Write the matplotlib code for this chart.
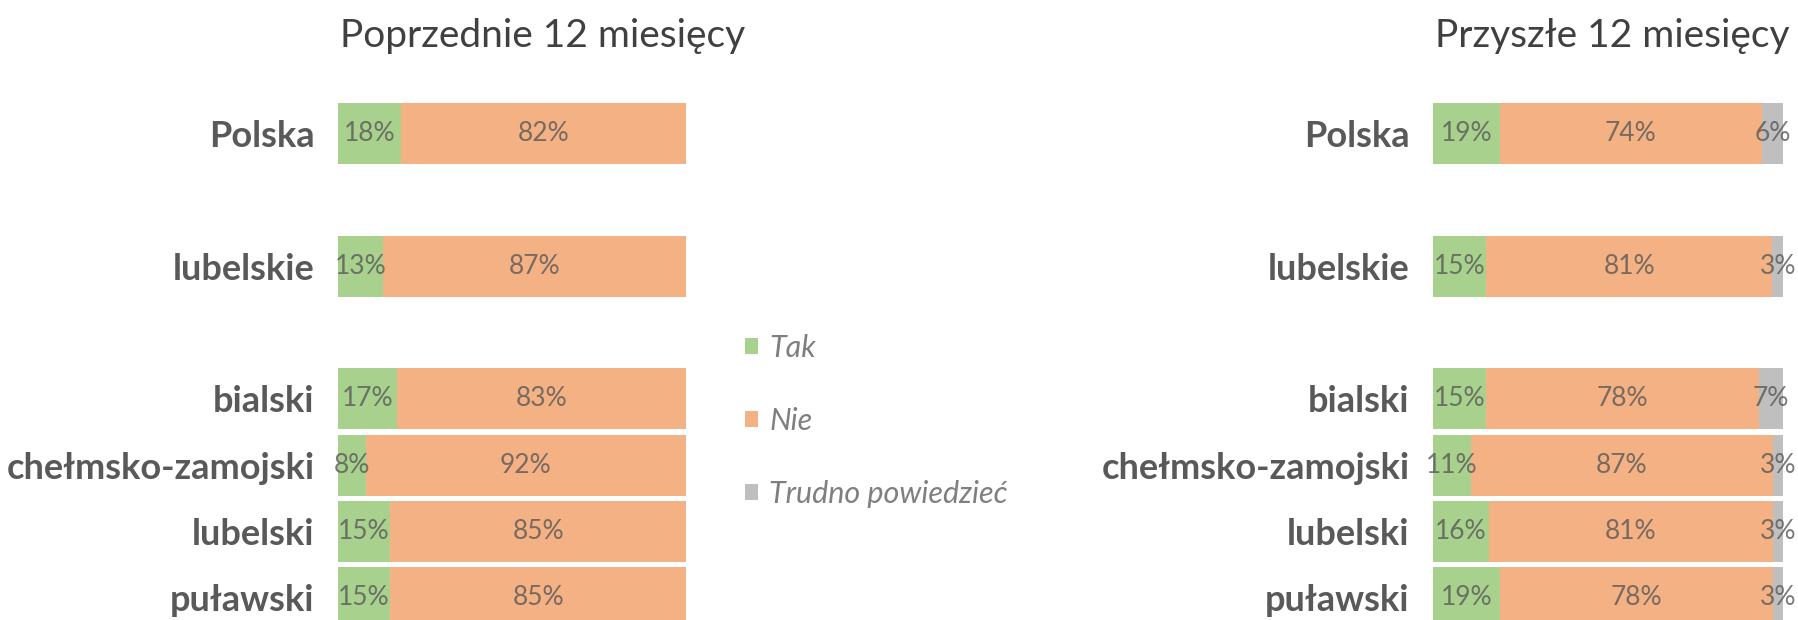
import numpy as np
import matplotlib
matplotlib.use("Agg")
import matplotlib.pyplot as plt

# data
regions = ["Polska", "lubelskie", "bialski", "chełmsko-zamojski", "lubelski", "puławski"]
row_pos = [0, 2, 4, 5, 6, 7]

prev_tak = [18, 13, 17, 8, 15, 15]
prev_nie = [82, 87, 83, 92, 85, 85]

next_tak = [19, 15, 15, 11, 16, 19]
next_nie = [74, 81, 78, 87, 81, 78]
next_trudno = [6, 3, 7, 3, 3, 3]

legend_labels = ["Tak", "Nie", "Trudno powiedzieć"]
titles = ["Poprzednie 12 miesięcy", "Przyszłe 12 miesięcy"]

colors = ["#A9D18E", "#F4B183", "#BFBFBF"]
label_col = "#595959"

plt.rcParams["font.family"] = ["Lato", "DejaVu Sans"]

W, H = 1798, 620
fig = plt.figure(figsize=(W / 100, H / 100), dpi=100)

y_unit = 66.3
y0 = 133.6
ylim = ((H - y0) / y_unit, -y0 / y_unit)


def draw_panel(x_left, x_right, series, title):
    ax = fig.add_axes([x_left / W, 0, (x_right - x_left) / W, 1])
    vals = np.array(series, dtype=float)
    tot = vals.sum(axis=0)
    shares = vals / tot * 100
    left = np.zeros(len(regions))
    bars = []
    for k in range(len(series)):
        b = ax.barh(row_pos, shares[k], left=left, height=0.92,
                    color=colors[k], edgecolor="none")
        bars.append(b)
        for i, y in enumerate(row_pos):
            ax.text(left[i] + shares[k][i] / 2, y, "%d%%" % vals[k][i],
                    ha="center", va="center", fontsize=19,
                    color=label_col, alpha=0.8)
        left = left + shares[k]
    ax.set_xlim(0, 100)
    ax.set_ylim(*ylim)
    ax.set_yticks(row_pos)
    ax.set_yticklabels(regions, fontsize=26, fontweight="bold", color=label_col)
    ax.tick_params(axis="y", length=0, pad=17)
    ax.set_xticks([])
    for s in ax.spines.values():
        s.set_visible(False)
    fig.text(x_left / W + 0.001, 1 - 36 / H, title, ha="left", va="center",
             fontsize=28, fontweight="normal", color="#404040")
    return bars


draw_panel(338, 686, [prev_tak, prev_nie], titles[0])
bars = draw_panel(1433, 1783, [next_tak, next_nie, next_trudno], titles[1])

fig.legend(bars, legend_labels, loc="center left",
           bbox_to_anchor=(745 / W, 1 - 421 / H), frameon=False,
           prop={"style": "italic", "size": 22}, labelcolor="#7F7F7F",
           handlelength=0.42, handleheight=0.42, handletextpad=0.38,
           labelspacing=1.47, borderpad=0, borderaxespad=0)

fig.savefig("out.png", dpi=100)
